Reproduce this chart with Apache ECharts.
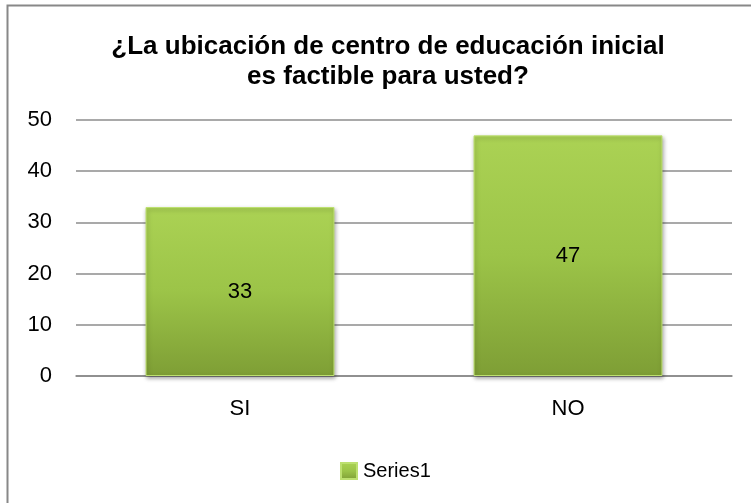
<!DOCTYPE html>
<html>
<head>
<meta charset="utf-8">
<script src="https://cdn.jsdelivr.net/npm/echarts@6/dist/echarts.min.js"></script>
<style>
  html, body { margin: 0; padding: 0; background: #fff; }
  #main { width: 751px; height: 503px; }
</style>
</head>
<body>
<div id="main"></div>
<script>
// datos del grafico
var categorias = ['SI', 'NO'];
var valores = [33, 47];
var etiquetasY = [0, 10, 20, 30, 40, 50];
var titulo = '¿La ubicación de centro de educación inicial\nes factible para usted?';

var myChart = echarts.init(document.getElementById('main'));

var verde = new echarts.graphic.LinearGradient(0, 0, 0, 1, [
    {offset: 0, color: '#abd254'},
    {offset: 0.5, color: '#9cc448'},
    {offset: 1, color: '#7e9e35'}
]);

var option = {
    backgroundColor: '#fff',
    // marco: solo borde superior e izquierdo visibles
    graphic: [{
        type: 'rect',
        shape: {x: 7.5, y: 5.5, width: 800, height: 600},
        style: {fill: 'none', stroke: '#888', lineWidth: 2},
        silent: true
    }],
    title: {
        text: titulo,
        left: 383,
        textAlign: 'center',
        top: 27,
        textStyle: {
            fontFamily: 'Liberation Sans',
            fontWeight: 'bold',
            fontSize: 26,
            lineHeight: 30,
            color: '#000'
        }
    },
    legend: {
        data: ['Series1'],
        top: 456,
        left: 335,
        itemWidth: 16,
        itemHeight: 16,
        icon: 'rect',
        itemGap: 4,
        textStyle: {fontFamily: 'Liberation Sans', fontSize: 20, color: '#000', padding: [0, 0, 0, 1]}
    },
    grid: {
        left: 76,
        right: 19,
        top: 120,
        bottom: 127
    },
    xAxis: {
        type: 'category',
        data: categorias,
        axisTick: {show: false},
        axisLine: {show: true, lineStyle: {color: '#888', width: 1.5}},
        axisLabel: {
            fontFamily: 'Liberation Sans',
            fontSize: 22,
            color: '#000',
            margin: 22
        }
    },
    yAxis: {
        type: 'value',
        min: etiquetasY[0],
        max: etiquetasY[etiquetasY.length - 1],
        interval: 10,
        axisLine: {show: false},
        axisTick: {show: false},
        splitLine: {lineStyle: {color: '#8c8c8c', width: 1.5}},
        axisLabel: {
            fontFamily: 'Liberation Sans',
            fontSize: 22,
            color: '#000',
            margin: 24
        }
    },
    series: [{
        name: 'Series1',
        type: 'bar',
        data: valores,
        barWidth: '57.6%',
        itemStyle: {
            color: verde,
            borderColor: '#bde070',
            borderWidth: 1,
            shadowColor: 'rgba(0,0,0,0.35)',
            shadowBlur: 4,
            shadowOffsetX: 1,
            shadowOffsetY: 2
        },
        label: {
            show: true,
            position: 'inside',
            fontFamily: 'Liberation Sans',
            fontSize: 22,
            color: '#000'
        }
    }]
};

myChart.setOption(option);
</script>
</body>
</html>
